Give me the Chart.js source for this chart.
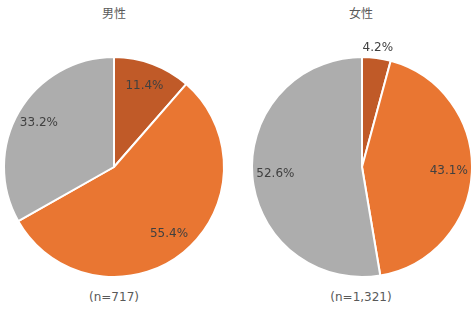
<!DOCTYPE html>
<html><head><meta charset="utf-8">
<script src="https://cdn.jsdelivr.net/npm/chart.js@4"></script>
<style>
body{margin:0;background:#fff;width:473px;height:322px;position:relative;overflow:hidden;font-family:"DejaVu Sans",Verdana,sans-serif;}
canvas{position:absolute;top:0;}
.t{position:absolute;font-size:12px;color:#595959;transform:translateX(-50%);white-space:nowrap;}
.cjk{font-family:"Noto Sans CJK JP",sans-serif;}
</style></head><body>
<div class="t cjk" style="left:114px;top:4px">男性</div>
<div class="t cjk" style="left:361px;top:4px">女性</div>
<div class="t" style="left:114px;top:290px">(n=717)</div>
<div class="t" style="left:361px;top:290px">(n=1,321)</div>
<canvas id="c1" width="236" height="322" style="left:0"></canvas>
<canvas id="c2" width="236" height="322" style="left:237px"></canvas>
<script>
const categories = ["A", "B", "C"];
const maleValues = [11.4, 55.4, 33.2];
const femaleValues = [4.2, 43.1, 52.6];
const colors = ["#C05A28", "#E97632", "#ADADAD"];

const labelPlugin = {
  id: 'lbl',
  afterDatasetsDraw(chart) {
    const ctx = chart.ctx;
    const meta = chart.getDatasetMeta(0);
    const data = chart.data.datasets[0].data;
    ctx.save();
    ctx.font = '12px "DejaVu Sans", Verdana, sans-serif';
    ctx.fillStyle = '#404040';
    ctx.textAlign = 'center';
    ctx.textBaseline = 'middle';
    meta.data.forEach((arc, i) => {
      const p = arc.getProps(['x','y','startAngle','endAngle','outerRadius'], true);
      const mid = (p.startAngle + p.endAngle) / 2;
      const f = data[i] < 6 ? 1.09 : 0.79;
      const r = p.outerRadius * f;
      ctx.fillText(data[i].toFixed(1) + '%', p.x + Math.cos(mid) * r, p.y + Math.sin(mid) * r);
    });
    ctx.restore();
  }
};

function makePie(id, values, pad) {
  new Chart(document.getElementById(id), {
    type: 'pie',
    data: { labels: categories, datasets: [{ data: values, backgroundColor: colors, borderColor: '#fff', borderWidth: 2 }] },
    options: {
      responsive: false, animation: false,
      layout: { padding: pad },
      plugins: { legend: { display: false }, tooltip: { enabled: false } }
    },
    plugins: [labelPlugin]
  });
}
makePie('c1', maleValues, { left: 3, right: 11, top: 56, bottom: 44 });
makePie('c2', femaleValues, { left: 14, right: 0, top: 56, bottom: 44 });
</script>
</body></html>
